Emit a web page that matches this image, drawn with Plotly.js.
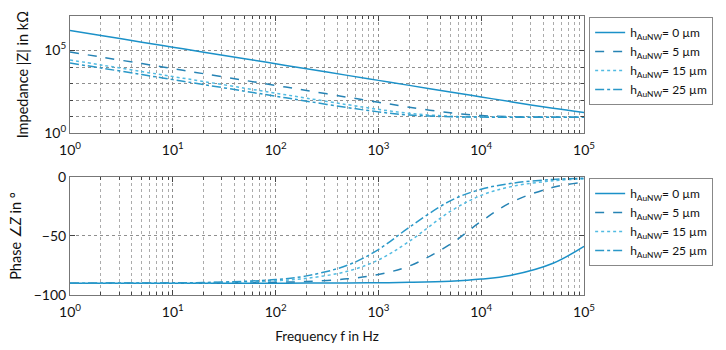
<!DOCTYPE html>
<html>
<head>
<meta charset="utf-8">
<script src="https://cdn.plot.ly/plotly-3.0.1.min.js"></script>
<style>
    body { margin: 0; background: #fff; }
    #plot { width: 726px; height: 350px; }
</style>
</head>
<body>
<div id="plot"></div>
<script>
// frequencies (Hz)
let freq = [1, 2, 5, 10, 20, 50, 100, 200, 500, 1000, 2000, 5000, 10000, 20000, 50000, 100000];

// impedance |Z| in kOhm, one array per nanowire height
let z0  = [1570000, 784000, 313600, 156800, 78400, 31350, 15680, 7840, 3135, 1568, 784, 313.6, 157, 78.9, 32.8, 18.3];
let z5  = [80000, 40000, 16000, 8000, 3950, 1570, 780, 385, 152, 75.5, 38.2, 17.4, 12.0, 10.2, 9.6, 9.5];
let z15 = [26600, 13300, 5320, 2660, 1330, 532, 266, 133, 54.0, 28.2, 16.3, 10.9, 9.87, 9.59, 9.51, 9.5];
let z25 = [17480, 8740, 3496, 1748, 874, 350, 175, 87.9, 36.2, 19.9, 12.9, 10.1, 9.66, 9.54, 9.5, 9.5];

// phase in degrees
let p0  = [-90, -90, -90, -90, -90, -90, -89.97, -89.93, -89.83, -89.65, -89.3, -88.3, -86.5, -83.1, -73.1, -58.8];
let p5  = [-90, -90, -89.96, -89.93, -89.85, -89.63, -89.26, -88.51, -86.28, -82.6, -75.4, -57.0, -37.6, -21.1, -8.75, -4.4];
let p15 = [-89.98, -89.96, -89.9, -89.8, -89.6, -88.98, -87.95, -85.9, -79.9, -70.3, -54.5, -29.2, -15.6, -8.0, -3.2, -1.6];
let p25 = [-89.97, -89.94, -89.84, -89.7, -89.4, -88.4, -86.9, -83.8, -74.8, -61.5, -42.6, -20.2, -10.4, -5.3, -2.1, -1.05];

let names = ["h<sub>AuNW</sub>= 0 µm", "h<sub>AuNW</sub>= 5 µm", "h<sub>AuNW</sub>= 15 µm", "h<sub>AuNW</sub>= 25 µm"];
let dashes = ["solid", "dash", "dot", "dashdot"];
let colors = ["#1b91c8", "#2683b4", "#52bbe2", "#2a98c8"];

// x tick labels
let xTicks = [1, 10, 100, 1000, 10000, 100000];
let xLabels = ["10<sup>0</sup>", "10<sup>1</sup>", "10<sup>2</sup>", "10<sup>3</sup>", "10<sup>4</sup>", "10<sup>5</sup>"];
let xMinor = [];
for (let d = 1; d < 100000; d *= 10)
    for (let k = 2; k < 10; k++)
        xMinor.push(k * d);

let zSets = [z0, z5, z15, z25];
let pSets = [p0, p5, p15, p25];

let traces = [];
zSets.forEach((ys, i) => {
    traces.push({
        x: freq, y: ys, xaxis: "x", yaxis: "y",
        name: names[i], legend: "legend",
        mode: "lines",
        line: {color: colors[i], dash: dashes[i], width: 1.5, shape: "spline"}
    });
});
pSets.forEach((ys, i) => {
    traces.push({
        x: freq, y: ys, xaxis: "x2", yaxis: "y2",
        name: names[i], legend: "legend2",
        mode: "lines",
        line: {color: colors[i], dash: dashes[i], width: 1.5, shape: "spline"}
    });
});

let family = "Lato, 'Open Sans', sans-serif";
let tickFont = {family: family, size: 14, color: "#111"};
let xTitleFont = {family: family, size: 13.5, color: "#111"};
let yTitleFont = {family: family, size: 14.5, color: "#111"};

// shared x axis settings
function xAxis(anchor, title)
{
    return {
        type: "log", range: [0, 5], anchor: anchor,
        tickmode: "array", tickvals: xTicks, ticktext: xLabels,
        ticks: "inside", ticklen: 5, tickcolor: "#444",
        ticklabelstandoff: 4,
        showline: true, linecolor: "#777", mirror: "ticks",
        showgrid: true, gridcolor: "#8f8f8f", griddash: "dot", gridwidth: 1,
        minor: {tickmode: "array", tickvals: xMinor, ticks: "inside", ticklen: 3,
                tickcolor: "#444", showgrid: true, gridcolor: "#ababab", griddash: "dot"},
        tickfont: tickFont, zeroline: false,
        title: {text: title, font: xTitleFont, standoff: 12}
    };
}

let legendBase = {
    x: 1.01, xanchor: "left", yanchor: "top",
    bgcolor: "#fff", bordercolor: "#888", borderwidth: 1,
    font: {family: family, size: 12, color: "#111"},
    itemwidth: 30, tracegroupgap: 0
};

let layout = {
    width: 726, height: 350,
    margin: {l: 70, r: 142, t: 16, b: 55},
    paper_bgcolor: "#fff", plot_bgcolor: "#fff",
    font: tickFont,
    showlegend: true,
    xaxis: xAxis("y", ""),
    xaxis2: xAxis("y2", "Frequency f in Hz"),
    yaxis: {
        type: "log", range: [0, 7.07], domain: [0.579, 1],
        tickmode: "array", tickvals: [1, 100000], ticktext: ["10<sup>0</sup>", "10<sup>5</sup>"],
        ticks: "inside", ticklen: 5, tickcolor: "#444",
        showline: true, linecolor: "#777", mirror: "ticks",
        showgrid: true, gridcolor: "#8f8f8f", griddash: "dot",
        minor: {tickmode: "array", tickvals: [10, 100, 1000, 10000], ticks: "inside", ticklen: 3,
                tickcolor: "#444", showgrid: true, gridcolor: "#8f8f8f", griddash: "dot"},
        tickfont: tickFont, zeroline: false,
        title: {text: "Impedance |Z| in kΩ", font: yTitleFont, standoff: 12}
    },
    yaxis2: {
        range: [-100, 0], domain: [0, 0.423],
        tickmode: "array", tickvals: [-100, -50, 0],
        ticks: "inside", ticklen: 5, tickcolor: "#444",
        showline: true, linecolor: "#777", mirror: "ticks",
        showgrid: true, gridcolor: "#8f8f8f", griddash: "dot",
        tickfont: tickFont, zeroline: false,
        title: {text: "Phase ∠<i>Z</i> in °", font: yTitleFont, standoff: 8}
    },
    legend: Object.assign({}, legendBase, {y: 0.996}),
    legend2: Object.assign({}, legendBase, {y: 0.419})
};

Plotly.newPlot("plot", traces, layout, {displayModeBar: false, staticPlot: true});
</script>
</body>
</html>
